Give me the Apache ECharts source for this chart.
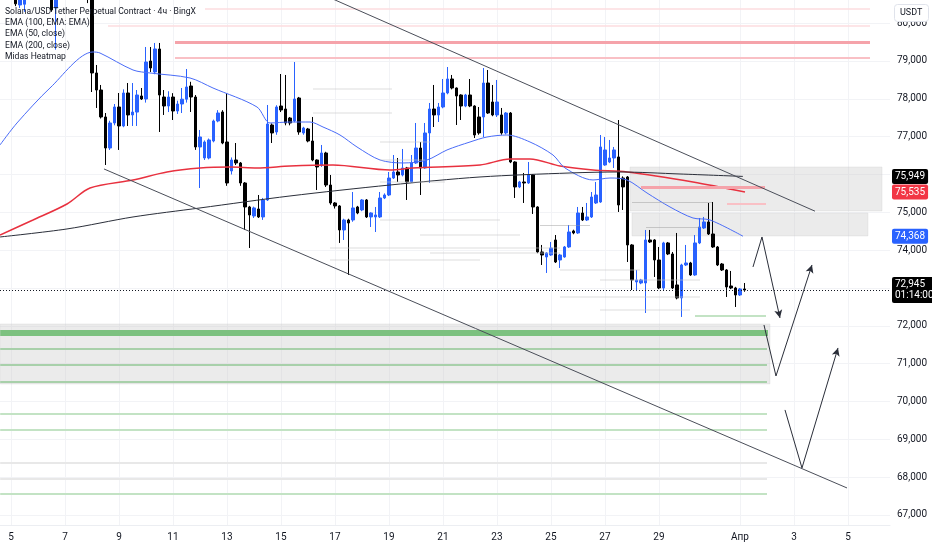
<!DOCTYPE html>
<html><head><meta charset="utf-8">
<script src="https://cdn.jsdelivr.net/npm/echarts@6/dist/echarts.min.js"></script>
<style>html,body{margin:0;padding:0;background:#fff}#c{width:932px;height:550px}</style>
</head><body><div id="c"></div>
<script>
// ---- DATA ----
// 4h candles [open, close, low, high]; last candle opened Apr 1, 04:00 (day 32 + 4h, March days numbering)
const candles = [
[81600,81900,81300,82200],[81900,81400,81200,82100],[81400,81700,81000,81900],[81700,80510,80450,81900],
[80480,81200,80400,81400],[80500,81500,80300,81800],[81500,81900,81300,82300],[81900,82400,81700,82600],
[82400,82100,81900,82700],[82100,82500,81900,82800],[82500,81900,81700,82700],[81900,80350,80300,82000],
[80400,81300,79300,81500],[81300,81800,81100,82000],[81800,82300,81600,82500],[82300,82000,81800,82600],
[82000,82400,81800,82600],[82400,81900,81600,82600],[81900,81500,81200,82100],[81500,81200,80530,81700],
[81200,78683,78180,81400],[78683,78233,77758,78894],[78233,77520,77480,78366],[77520,76700,76251,77625],
[76700,77361,76648,77420],[77361,77784,77300,77863],[77784,77282,76648,78154],[77282,78154,77250,78250],
[78154,77573,77282,78418],[77573,77650,77282,78418],[77650,78101,77282,78233],[78075,77995,77969,78286],
[77995,78973,77900,79370],[78999,78815,78709,79370],[78709,79317,78650,79476],[79317,78101,77123,79476],
[78048,77810,77573,78233],[77810,78048,77650,78200],[78048,77678,77440,78150],[77678,77863,77600,77950],
[77863,77990,77625,78286],[77990,78313,77900,78788],[78339,78048,77652,78450],[78048,76727,76650,78100],
[76727,76991,75643,77176],[76436,76859,76383,76900],[76436,76912,76400,76950],[76885,77414,76850,77450],
[77414,77625,77380,77700],[77652,76832,76800,77700],[76859,75775,75700,78154],[76093,76383,76000,76450],
[76383,76304,76250,76832],[76304,75775,75700,76330],[75775,75141,74533,75800],[75141,74930,74057,75170],
[74903,75115,74850,75150],[75088,74877,74850,75458],[74877,75326,74800,75380],[75326,77335,75300,77837],
[77308,77097,76832,77350],[77123,77784,77050,77830],[77810,77705,77650,78656],[77731,77361,77300,78630],
[77493,77361,77300,77520],[77414,77995,77380,78973],[78022,77123,77050,78050],[77097,77229,77050,77260],
[77203,76885,76850,77230],[76885,76383,76350,77520],[76383,76198,75590,76400],[76251,76568,76200,76780],
[76568,75722,75670,76600],[75722,75247,75200,75987],[75247,75168,75100,75270],[75168,74533,74190,75190],
[74533,74797,74269,74830],[74797,74718,73344,74830],[74797,75115,74750,75537],[75141,74982,74950,75170],
[75062,75326,75030,75350],[75326,74877,74850,75350],[74877,74982,74612,75000],[74877,74930,74480,75141],
[74877,75379,74850,75537],[75379,75458,75350,75500],[75458,75907,75430,76066],[75907,76066,75880,76515],
[76066,75987,75802,76436],[75987,76172,75950,76674],[76172,75802,75326,76200],[75802,76304,75780,76515],
[76304,76700,76280,77361],[76700,76172,75458,76859],[76172,77097,76150,77361],[77097,77731,75775,77890],
[77731,77573,77255,78366],[77573,77784,77387,77890],[77784,78154,77750,78524],[78154,78524,78120,78841],
[78524,78286,78250,78630],[78286,78075,77308,78300],[78101,77810,77440,78120],[77810,78101,77780,78130],
[78101,77810,77780,78524],[77810,77044,76964,77830],[77520,77097,77050,77784],[77520,78418,76991,78815],
[78418,77625,77600,78762],[77916,77573,77540,78366],[77573,77916,77520,78498],[77573,77097,77050,77758],
[77097,77625,77060,77650],[77625,76330,76300,77650],[76330,75670,75379,76350],[75670,75802,75640,75830],
[75802,75775,75247,76040],[75775,75987,75750,76330],[75987,75141,74956,76010],[75141,73952,73920,75160],
[73952,73872,73608,74137],[73819,73925,73397,73950],[73872,74057,73850,74216],[74269,73687,73660,74400],
[73740,73872,73529,73900],[73819,74084,73800,74110],[74084,74480,74060,74665],[74507,74454,74420,74540],
[74454,74982,74430,75141],[74982,74797,74770,75141],[74797,74877,74770,75247],[74877,75405,74850,75537],
[75247,75458,75220,75802],[75273,76727,75250,77044],[76251,76648,76230,76991],[76330,76436,76300,76912],
[76436,76648,76172,76727],[76463,75194,75009,77440],[75907,75670,75062,75950],[75934,74137,73687,75960],
[74137,73212,72947,74160],[73159,73212,72947,73476],[73132,73212,73100,73240],[73132,74269,72339,74533],
[74269,74216,74190,74533],[74269,73740,73291,74290],[73740,73000,72970,74084],[73000,74190,72947,74220],
[74190,73899,73870,74216],[73899,73000,72970,73952],[73080,72736,72700,74454],[72736,73608,72234,73640],
[73608,73661,73580,74137],[73661,73344,73320,73690],[73344,74190,73320,74400],[74190,74612,74160,74850],
[74586,74745,74560,74877],[74745,74427,74400,75247],[74427,74084,74060,75273],[74084,73608,73580,74110],
[73634,73476,73450,73660],[73476,73027,72762,73500],[73053,73000,72970,73450],[73000,72815,72498,73030],
[72815,72974,72790,73000],[72974,72945,72900,73132]
];
const lastCandleDay = 32 + 4/24;
const candleStepDays = 4/24;
const countdown = '01:14:00';

// EMA lines [day, value]
const ema100 = [[4.593,74348],[7.074,74560],[9.519,74877],[12.0,75115],[15.333,75432],[19.037,75722],[22.37,75934],[25.704,76040],[27.556,76066],[29.778,76013],[32.111,75949]];
const ema200 = [[4.593,74401],[5.815,74797],[7.074,75220],[7.926,75643],[9.519,75855],[10.778,76066],[12.0,76172],[13.111,76198],[14.111,76172],[15.333,76225],[16.926,76251],[19.037,76119],[19.889,76172],[22.37,76251],[23.481,76410],[24.222,76410],[25.333,76225],[26.556,76119],[27.815,76066],[30.259,75802],[32.185,75535]];
const ema50 = [[4.593,76780],[5.222,77361],[6.444,78286],[8.037,79238],[8.296,79211],[9.519,78762],[10.148,78683],[11.63,78551],[12.481,78286],[14.111,77784],[14.593,77361],[15.333,77387],[16.074,77387],[16.556,77255],[17.185,77044],[17.815,76727],[18.667,76383],[19.519,76304],[20.407,76383],[21.148,76648],[22.0,76859],[22.63,76991],[23.37,77044],[24.222,76859],[25.074,76515],[25.519,76172],[26.556,75855],[27.185,75907],[27.815,75855],[28.556,75511],[29.407,75141],[30.259,74850],[30.889,74797],[32.111,74368]];

// channel
const channelUpper = [[16.667,80718],[34.778,75030]];
const channelLower = [[8.444,76146],[35.963,67714]];

// scenario arrows (3 points each, last is the arrow tip)
const arrowPaths = [
  [[32.481,73555],[32.815,74348],[33.481,72207]],
  [[32.889,72022],[33.333,70674],[34.667,73608]],
  [[33.667,69776],[34.296,68243],[35.63,71415]]
];

// gray zones [fromDay, toDay, lowPrice, highPrice]
const zones = [[27.926,37.26,75036,76198],[28.0,36.74,74375,74982],[4.6,33.111,70463,72049]];

// heatmap levels [price, fromDay, toDay]
const redStrong = [[79502,11.074,36.815],[75670,28.333,32.926]];
const redMid = [[79079,11.074,36.815],[75220,31.519,32.963]];
const redWeak = [[80374,12.185,36.815],[79925,8.593,36.815]];
const greenStrong = [[71811,4.6,33.037]];
const greenMid = [[71388,4.6,33.0],[70965,4.6,33.0],[70516,4.6,33.0]];
const greenWeak = [[72260,30.333,32.963],[69670,4.6,33.0],[69247,4.6,33.0],[67555,4.6,33.0]];
const grayLevels = [[68375,4.6,33.0],[67952,4.6,33.0]];
const heatFaint = [[78260,16.185,19.111],[77625,16.185,19.111],[76859,18.667,20.519],[76383,18.667,20.333],[75802,18.667,21.074],[74797,18.667,23.111],[74401,20.148,23.852],[74057,16.815,25.333],[73925,20.519,25.333],[73740,16.815,22.37],[73476,25.333,28.296],[73212,26.815,30.519],[72762,25.333,30.519],[72419,26.815,30.148]];
const heatDark = [[75273,28.0,30.963],[74612,28.519,30.519],[74665,24.593,26.444]];

// axes ticks
const xTickDays = [5,7,9,11,13,15,17,19,21,23,25,27,29,32,34,36];
const xTickLabels = ['5','7','9','11','13','15','17','19','21','23','25','27','29','Апр','3','5'];
const yGridValues = [67000,68000,69000,70000,71000,72000,73000,74000,75000,76000,77000,78000,79000,80000];
const yLabelValues = [67000,68000,69000,70000,71000,72000,74000,75000,77000,78000,79000,80000];
const legendLines = ['Solana/USD Tether Perpetual Contract · 4ч · BingX','EMA (100, EMA: EMA)','EMA (50, close)','EMA (200, close)','Midas Heatmap'];
const currencyLabel = 'USDT';

// ---- CHART ----
const fmt = v => String(Math.round(v)).replace(/\B(?=(\d{3})+(?!\d))/g, ',');
const N = candles.length;
const candleData = candles.map((c, i) => [lastCandleDay - (N - 1 - i) * candleStepDays, c[0], c[1], c[2], c[3]]);
const FONT = 'Roboto, "Noto Sans", sans-serif';

function levelSeries(levels, color, width, z) {
  return {
    type: 'line', data: [], z: z, silent: true,
    markLine: {
      silent: true, animation: false, symbol: ['none', 'none'],
      label: { show: false },
      lineStyle: { color: color, width: width, type: 'solid' },
      emphasis: { disabled: true },
      data: levels.map(l => [{ coord: [l[1], l[0]] }, { coord: [l[2], l[0]] }])
    }
  };
}

const arrowMarks = [];
arrowPaths.forEach(p => {
  arrowMarks.push([{ coord: p[0] }, { coord: p[1] }]);
  arrowMarks.push([{ coord: p[1] }, { coord: p[2], symbol: 'arrow', symbolSize: [6, 8] }]);
});

function priceLabel(bg) {
  return { show: true, position: 'end', distance: 2, color: '#fff', backgroundColor: bg,
    padding: [2, 3, 1, 3], fontSize: 10, fontFamily: FONT, borderRadius: 2, lineHeight: 12,
    formatter: p => fmt(p.value) };
}

const option = {
  animation: false,
  backgroundColor: '#ffffff',
  grid: { left: 0, right: 42, top: 0, bottom: 25, containLabel: false },
  xAxis: {
    type: 'value', min: 4.593, max: 37.556,
    axisLine: { show: true, lineStyle: { color: '#eceef2' } },
    axisTick: { show: false, customValues: xTickDays },
    splitLine: { show: true, lineStyle: { color: '#f2f3f6', width: 1 } },
    axisLabel: { customValues: xTickDays, color: '#131722', fontSize: 10, fontFamily: FONT, margin: 7,
      formatter: v => { const k = xTickDays.indexOf(Math.round(v)); return k >= 0 ? xTickLabels[k] : ''; } }
  },
  yAxis: {
    type: 'value', position: 'right', min: 66735, max: 80612, scale: true,
    axisLine: { show: false },
    axisTick: { show: false, customValues: yGridValues },
    splitLine: { show: true, lineStyle: { color: '#f2f3f6', width: 1 } },
    axisLabel: { customValues: yLabelValues, color: '#131722', fontSize: 10, fontFamily: FONT, margin: 7, formatter: v => fmt(v) }
  },
  graphic: [
    ...legendLines.map((t, i) => ({ type: 'text', left: 5, top: 7 + i * 11.4, z: 100,
      style: { text: t, font: '8.6px ' + FONT, fill: '#131722' } })),
    { type: 'rect', left: 894, top: 4, z: 100, shape: { width: 34, height: 17, r: 3 },
      style: { fill: '#ffffff', stroke: '#e0e3eb', lineWidth: 1 } },
    { type: 'text', left: 900, top: 8, z: 101, style: { text: currencyLabel, font: '9px ' + FONT, fill: '#131722' } }
  ],
  series: [
    {
      type: 'line', data: [], z: 1, silent: true,
      markArea: { silent: true, itemStyle: { color: 'rgba(200,200,200,0.36)', borderColor: 'rgba(200,200,200,0.25)', borderWidth: 1 },
        data: zones.map(zn => [{ coord: [zn[0], zn[3]] }, { coord: [zn[1], zn[2]] }]) }
    },
    levelSeries(heatFaint, 'rgba(200,200,200,0.3)', 2, 1),
    levelSeries(heatDark, 'rgba(150,150,150,0.45)', 1, 1),
    levelSeries(grayLevels, '#e8e8e8', 2, 1),
    levelSeries(redWeak, '#fcdcdf', 1.5, 1),
    levelSeries(redMid, '#f9c0c5', 2, 1),
    levelSeries(redStrong, '#f5a3aa', 3, 1),
    levelSeries(greenWeak, '#c3e3c4', 2, 1),
    levelSeries(greenMid, '#a8d0aa', 2, 1),
    levelSeries(greenStrong, '#7cc17f', 6, 1),
    {
      type: 'candlestick', z: 3, barWidth: 3, clip: true,
      encode: { x: 0, y: [1, 2, 3, 4] },
      data: candleData,
      itemStyle: { color: '#2962ff', color0: '#000000', borderColor: '#2962ff', borderColor0: '#000000', borderWidth: 1 },
      markLine: {
        silent: true, animation: false, symbol: ['none', 'none'],
        lineStyle: { color: '#131722', type: [1, 2], width: 1 },
        data: [{ yAxis: candles[N - 1][1],
          label: { show: true, position: 'end', distance: 2, color: '#fff', backgroundColor: '#000',
            padding: [2, 3, 2, 3], fontSize: 10, fontFamily: FONT, borderRadius: 2, lineHeight: 11,
            formatter: p => fmt(p.value) + '\n' + countdown } }]
      }
    },
    { type: 'line', data: ema200, z: 4, showSymbol: false, smooth: 0.3, silent: true, lineStyle: { color: '#e8313f', width: 1.5 } },
    { type: 'line', data: ema50, z: 4, showSymbol: false, smooth: 0.3, silent: true, lineStyle: { color: '#4a6cf7', width: 1 } },
    { type: 'line', data: ema100, z: 4, showSymbol: false, smooth: 0.3, silent: true, lineStyle: { color: '#2a2e39', width: 1 } },
    { type: 'line', data: channelUpper, z: 5, showSymbol: false, silent: true, lineStyle: { color: '#4a4e59', width: 1 } },
    { type: 'line', data: channelLower, z: 5, showSymbol: false, silent: true, lineStyle: { color: '#4a4e59', width: 1 } },
    {
      type: 'line', data: [], z: 6, silent: true,
      markLine: { silent: true, animation: false, symbol: ['none', 'none'], label: { show: false },
        lineStyle: { color: '#2a2e39', width: 1, type: 'solid' }, data: arrowMarks }
    },
    {
      type: 'line', data: [], z: 10, silent: true,
      markLine: { silent: true, animation: false, symbol: ['none', 'none'],
        lineStyle: { color: 'rgba(0,0,0,0)', width: 1 },
        data: [
          { yAxis: ema100[ema100.length - 1][1], label: priceLabel('#000000') },
          { yAxis: ema200[ema200.length - 1][1], label: priceLabel('#f23645') },
          { yAxis: ema50[ema50.length - 1][1], label: priceLabel('#2962ff') }
        ] }
    }
  ]
};
const chart = echarts.init(document.getElementById('c'));
chart.setOption(option);
</script>
</body></html>
